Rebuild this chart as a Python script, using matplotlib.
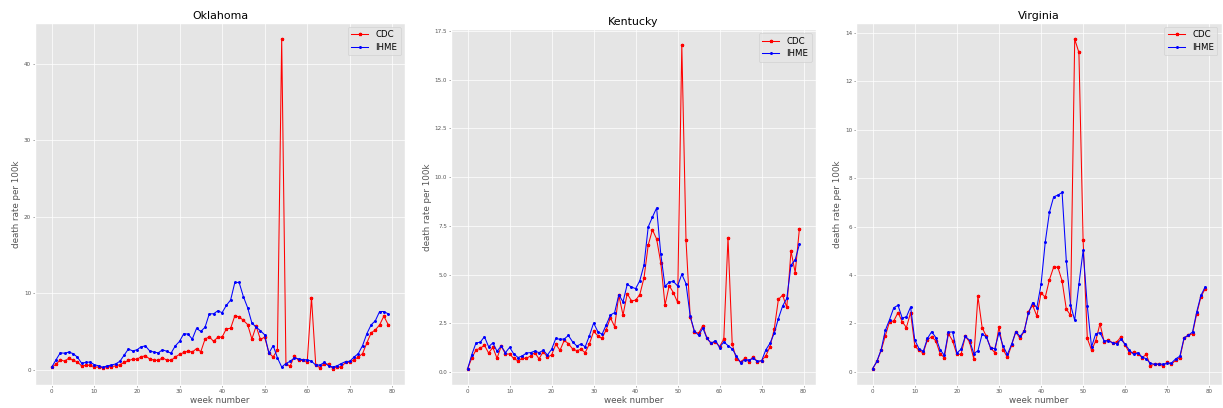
import numpy as np
import matplotlib.pyplot as plt

plt.style.use("ggplot")

weeks = np.arange(80)

oklahoma_cdc = [
    0.35, 0.7, 1.3, 1.1, 1.5, 1.25, 1.0, 0.5, 0.55, 0.6,
    0.35, 0.35, 0.25, 0.4, 0.4, 0.5, 0.65, 0.95, 1.2, 1.35,
    1.35, 1.7, 1.8, 1.4, 1.25, 1.2, 1.55, 1.25, 1.2, 1.65,
    2.0, 2.25, 2.4, 2.3, 2.75, 2.35, 4.0, 4.3, 3.7, 4.25,
    4.25, 5.35, 5.4, 7.05, 6.9, 6.45, 5.9, 4.0, 5.7, 3.95,
    4.25, 2.2, 1.65, 2.6, 43.2, 0.7, 0.5, 1.75, 1.2, 1.2,
    1.05, 9.4, 0.6, 0.25, 0.8, 0.7, 0.15, 0.35, 0.35, 0.95,
    0.95, 1.3, 1.65, 2.1, 3.5, 4.8, 5.2, 5.85, 7.0, 5.9,
]
oklahoma_ihme = [
    0.35, 1.3, 2.2, 2.15, 2.3, 2.1, 1.65, 0.85, 0.95, 1.0,
    0.65, 0.5, 0.3, 0.5, 0.6, 0.75, 1.1, 1.9, 2.7, 2.45,
    2.6, 3.0, 3.1, 2.45, 2.3, 2.2, 2.6, 2.4, 2.15, 3.1,
    3.7, 4.7, 4.65, 4.0, 5.4, 5.0, 5.55, 7.3, 7.3, 7.7,
    7.45, 8.4, 9.1, 11.4, 11.4, 9.55, 8.1, 6.1, 5.55, 5.1,
    4.55, 2.15, 3.15, 1.55, 0.35, 0.8, 1.1, 1.55, 1.4, 1.3,
    1.3, 1.1, 0.6, 0.6, 0.95, 0.5, 0.35, 0.5, 0.8, 1.05,
    1.1, 1.65, 2.1, 3.15, 4.7, 5.85, 6.4, 7.6, 7.6, 7.3,
]

kentucky_cdc = [
    0.17, 0.73, 1.14, 1.22, 1.38, 0.98, 1.27, 0.71, 1.34, 0.93,
    0.93, 0.7, 0.58, 0.7, 0.71, 0.83, 1.0, 0.68, 1.05, 0.77,
    0.88, 1.43, 1.12, 1.63, 1.46, 1.19, 1.1, 1.17, 1.0, 1.45,
    2.09, 1.87, 1.73, 2.18, 2.79, 2.33, 3.95, 2.93, 4.03, 3.66,
    3.69, 3.98, 4.84, 6.52, 7.3, 6.83, 5.6, 3.44, 4.44, 4.07,
    3.58, 16.77, 6.76, 2.84, 2.06, 1.99, 2.38, 1.73, 1.48, 1.55,
    1.31, 1.7, 6.89, 1.45, 0.66, 0.53, 0.7, 0.53, 0.8, 0.53,
    0.59, 0.83, 1.31, 2.19, 3.73, 3.95, 3.32, 6.21, 5.1, 7.35,
]
kentucky_ihme = [
    0.17, 0.9, 1.5, 1.53, 1.82, 1.3, 1.5, 1.07, 1.34, 1.0,
    1.27, 0.93, 0.75, 0.83, 0.98, 1.0, 1.08, 1.0, 1.12, 0.88,
    1.17, 1.73, 1.68, 1.7, 1.88, 1.55, 1.34, 1.44, 1.3, 1.87,
    2.52, 2.08, 1.94, 2.42, 2.93, 3.05, 3.97, 3.6, 4.5, 4.37,
    4.28, 4.69, 5.5, 7.45, 7.95, 8.42, 6.04, 4.4, 4.62, 4.65,
    4.42, 5.02, 4.54, 2.87, 2.11, 1.89, 2.26, 1.73, 1.48, 1.62,
    1.26, 1.55, 1.36, 1.19, 0.83, 0.49, 0.63, 0.63, 0.7, 0.56,
    0.58, 1.14, 1.48, 1.99, 2.75, 3.39, 3.78, 5.48, 5.77, 6.55,
]

virginia_cdc = [
    0.14, 0.43, 0.89, 1.49, 2.08, 2.1, 2.45, 2.08, 1.83, 2.45,
    1.07, 0.89, 0.78, 1.33, 1.45, 1.28, 0.76, 0.59, 1.58, 1.28,
    0.72, 0.73, 1.47, 1.24, 0.55, 3.12, 1.83, 1.47, 0.99, 0.8,
    1.86, 0.92, 0.6, 1.1, 1.66, 1.38, 1.68, 2.48, 2.75, 2.31,
    3.26, 3.09, 3.81, 4.33, 4.32, 3.76, 2.6, 2.34, 13.74, 13.19,
    5.43, 1.38, 0.9, 1.28, 1.99, 1.24, 1.31, 1.2, 1.24, 1.44,
    1.1, 0.79, 0.81, 0.76, 0.59, 0.72, 0.26, 0.32, 0.32, 0.26,
    0.39, 0.32, 0.48, 0.59, 1.38, 1.51, 1.58, 2.41, 3.1, 3.44,
]
virginia_ihme = [
    0.14, 0.44, 0.92, 1.72, 2.16, 2.65, 2.75, 2.23, 2.27, 2.68,
    1.31, 0.96, 0.85, 1.38, 1.66, 1.42, 0.92, 0.69, 1.64, 1.65,
    0.78, 0.94, 1.47, 1.31, 0.76, 0.87, 1.56, 1.45, 0.99, 0.96,
    1.61, 1.06, 0.72, 1.14, 1.66, 1.47, 1.68, 2.42, 2.86, 2.65,
    3.61, 5.36, 6.6, 7.23, 7.3, 7.41, 4.6, 2.78, 2.13, 3.62,
    5.02, 2.71, 1.03, 1.58, 1.62, 1.28, 1.29, 1.2, 1.17, 1.34,
    1.14, 0.9, 0.72, 0.79, 0.62, 0.54, 0.35, 0.32, 0.32, 0.32,
    0.35, 0.37, 0.54, 0.65, 1.42, 1.51, 1.65, 2.48, 3.16, 3.51,
]

states = ["Oklahoma", "Kentucky", "Virginia"]
cdc_rates = [oklahoma_cdc, kentucky_cdc, virginia_cdc]
ihme_rates = [oklahoma_ihme, kentucky_ihme, virginia_ihme]

# axes boxes: left, bottom, width, height
boxes = [
    [0.0286, 0.0564, 0.3025, 0.888],
    [0.3688, 0.0564, 0.2984, 0.8725],
    [0.7000, 0.0564, 0.2990, 0.888],
]

fig = plt.figure(figsize=(12.23, 4.08), dpi=100)

for state, cdc, ihme, box in zip(states, cdc_rates, ihme_rates, boxes):
    ax = fig.add_axes(box)
    ax.plot(weeks, cdc, color="red", marker="*", markersize=2.3,
            linewidth=0.75, label="CDC")
    ax.plot(weeks, ihme, color="blue", marker=".", markersize=2.3,
            linewidth=0.75, label="IHME")
    ax.set_title(state, fontsize=7.9, pad=3)
    ax.set_xlabel("week number", fontsize=6.3, labelpad=1.5)
    ax.set_ylabel("death rate per 100k", fontsize=6.3, labelpad=2)
    ax.set_xticks(np.arange(0, 81, 10))
    ax.tick_params(labelsize=4.1, length=1.4, width=0.4, pad=1.4)
    ax.grid(True, linewidth=0.5)
    ax.legend(loc="upper right", fontsize=6.2, handlelength=2.0,
              borderpad=0.4, labelspacing=0.4)

fig.savefig("out.png", dpi=100)
